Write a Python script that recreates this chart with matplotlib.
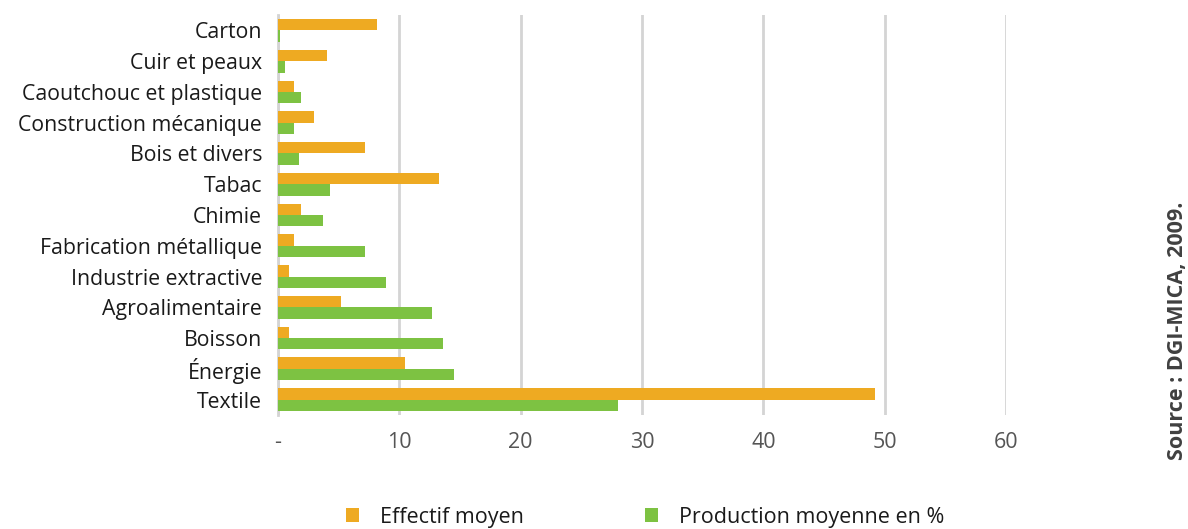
import matplotlib
matplotlib.use("Agg")
import matplotlib.pyplot as plt
import numpy as np

categories = ["Carton", "Cuir et peaux", "Caoutchouc et plastique", "Construction mécanique",
              "Bois et divers", "Tabac", "Chimie", "Fabrication métallique",
              "Industrie extractive", "Agroalimentaire", "Boisson", "Énergie", "Textile"]
effectif = [8.2, 4.0, 1.3, 3.0, 7.2, 13.3, 1.9, 1.3, 0.9, 5.2, 0.9, 10.5, 49.2]
production = [0.2, 0.6, 1.9, 1.3, 1.7, 4.3, 3.7, 7.2, 8.9, 12.7, 13.6, 14.5, 28.0]
xticks = [0, 10, 20, 30, 40, 50, 60]
xticklabels = ["-", "10", "20", "30", "40", "50", "60"]
series_names = ["Effectif moyen", "Production moyenne en %"]

orange = "#EEAA22"
green = "#7DC242"

plt.rcParams['font.family'] = ['Open Sans', 'DejaVu Sans']
fig = plt.figure(figsize=(11.88, 5.29), dpi=100)
ax = fig.add_axes([278/1188, 1 - 415/529, (1006-278)/1188, (415-15)/529])

y = np.arange(len(categories))
h = 0.37
ax.barh(y - h/2, effectif, height=h, color=orange, label=series_names[0], zorder=3)
ax.barh(y + h/2, production, height=h, color=green, label=series_names[1], zorder=3)

ax.set_ylim(len(categories) - 0.5, -0.5)
ax.set_xlim(0, 60)
ax.set_yticks(y)
ax.set_yticklabels(categories, fontsize=15.3, color="#1a1a1a")
ax.set_xticks(xticks)
ax.set_xticklabels(xticklabels, fontsize=15.5, color="#555555")
ax.tick_params(axis='both', length=0)
ax.tick_params(axis='x', pad=12)
ax.tick_params(axis='y', pad=11.5)
ax.grid(axis='x', color="#d4d4d4", linewidth=2, zorder=0)
for s in ["top", "right", "bottom"]:
    ax.spines[s].set_visible(False)
ax.spines["left"].set_color("#d4d4d4")
ax.spines["left"].set_linewidth(2)

fig.legend(loc='center', bbox_to_anchor=(0.543, 1 - 517/529), ncol=2, frameon=False,
           fontsize=15.5, handlelength=0.6, handleheight=0.6, columnspacing=5.6,
           handletextpad=1.0, labelcolor="#1a1a1a", borderaxespad=0, borderpad=0)

fig.text(1178/1188, 1 - 331/529, "Source : DGI-MICA, 2009.", rotation=90, ha='center',
         va='center', fontsize=15.5, fontweight='bold', color="#404040")

fig.savefig("out.png", dpi=100)
